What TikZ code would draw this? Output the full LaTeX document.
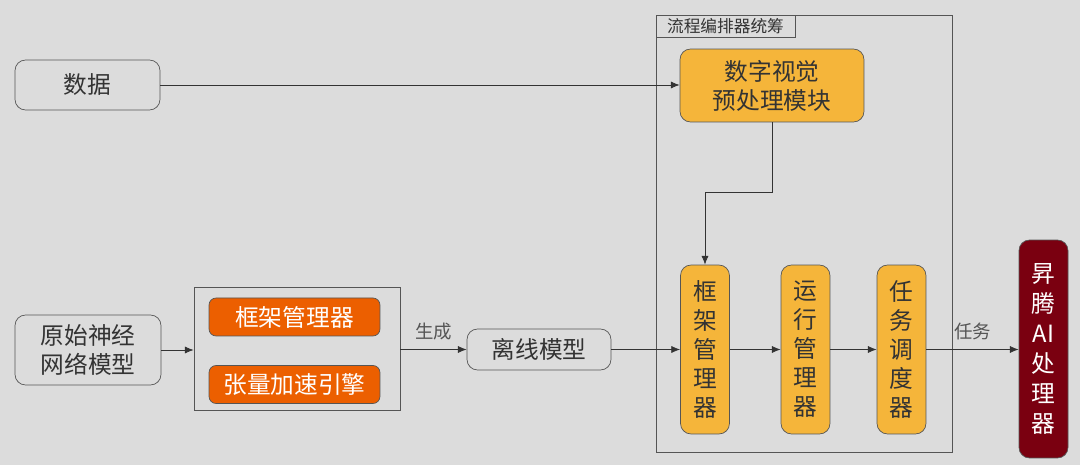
\documentclass[tikz,border=0pt]{standalone}
\usepackage{fontspec}
\setmainfont{Noto Sans CJK SC}
\usetikzlibrary{arrows.meta}

\definecolor{bggray}{HTML}{DCDCDC}
\definecolor{linegray}{HTML}{555555}
\definecolor{txtgray}{HTML}{333333}
\definecolor{labelgray}{HTML}{555555}
\definecolor{frameorange}{HTML}{EC5F00}
\definecolor{modyellow}{HTML}{F5B53A}
\definecolor{ascendred}{HTML}{7A0010}

\tikzset{
  plainbox/.style={draw=linegray, rounded corners=6pt, fill=bggray, text=txtgray,
    font=\fontsize{13.5}{16.5}\selectfont, align=center, inner sep=0pt},
  orangebox/.style={draw=linegray, rounded corners=4pt, fill=frameorange, text=white,
    font=\fontsize{13.5}{16}\selectfont, inner sep=0pt, minimum width=3.42cm, minimum height=0.76cm},
  yellowbox/.style={draw=linegray, rounded corners=6pt, fill=modyellow, text=txtgray,
    font=\fontsize{13.5}{16.5}\selectfont, align=center, inner sep=0pt},
  vbox/.style={yellowbox, minimum width=0.98cm, minimum height=3.38cm},
  flow/.style={draw=txtgray, -{Latex[length=5pt,width=4pt]}},
  smalllabel/.style={text=labelgray, font=\fontsize{10.5}{12}\selectfont}
}

\begin{document}
\begin{tikzpicture}[x=0.02cm, y=-0.02cm]
  \fill[bggray] (0,0) rectangle (1080,465);
  \useasboundingbox (0,0) rectangle (1080,465);

  % left inputs
  \node[plainbox, minimum width=2.9cm, minimum height=1.0cm] (data) at (87.5,85) {数据};
  \node[plainbox, minimum width=2.92cm, minimum height=1.4cm] (rawnet) at (88,350) {原始神经\\网络模型};

  % framework group
  \node[draw=linegray, minimum width=4.12cm, minimum height=2.46cm, inner sep=0pt] (fwgroup) at (297,348.5) {};
  \node[orangebox] (fwmgr) at (294.5,317) {框架管理器};
  \node[orangebox] (tensor) at (294.5,384.5) {张量加速引擎};

  \node[plainbox, minimum width=2.88cm, minimum height=0.82cm] (offline) at (539,349.5) {离线模型};

  % orchestrator
  \node[draw=linegray, minimum width=5.92cm, minimum height=8.74cm, inner sep=0pt] (orch) at (804,233.5) {};
  \node[draw=linegray, anchor=north west, minimum width=2.78cm, minimum height=0.44cm,
    inner sep=0pt, text=txtgray, font=\fontsize{9.5}{10}\selectfont] (orchtitle) at (orch.north west) {流程编排器统筹};
  \node[yellowbox, minimum width=3.68cm, minimum height=1.46cm] (preproc) at (772,85.5) {数字视觉\\预处理模块};
  \node[vbox] (fwmgrv) at (705,349.5) {框\\架\\管\\理\\器};
  \node[vbox] (runmgr) at (805.5,349.5) {运\\行\\管\\理\\器};
  \node[vbox] (sched) at (901.5,349.5) {任\\务\\调\\度\\器};

  \node[draw=linegray, rounded corners=6pt, fill=ascendred, text=white, align=center,
    font=\fontsize{13.5}{17}\selectfont, inner sep=0pt, minimum width=0.98cm,
    minimum height=4.36cm] (ascend) at (1043.5,349) {昇\\腾\\AI\\处\\理\\器};

  % connectors
  \draw[flow] (data) -- (preproc.west |- data);
  \draw[flow] (rawnet) -- (fwgroup.west |- rawnet);
  \draw[flow] (fwgroup.east |- offline) -- node[smalllabel, above, yshift=2pt] (genlabel) {生成} (offline);
  \draw[flow] (offline) -- (fwmgrv.west |- offline);
  \draw[flow] (preproc.south) -- ++(0,70.5) -| (fwmgrv.north);
  \draw[flow] (fwmgrv) -- (runmgr);
  \draw[flow] (runmgr) -- (sched);
  \draw[flow] (sched.east) -- node[smalllabel, above, yshift=2pt] (tasklabel) {任务} (ascend.west |- sched.east);
\end{tikzpicture}
\end{document}
